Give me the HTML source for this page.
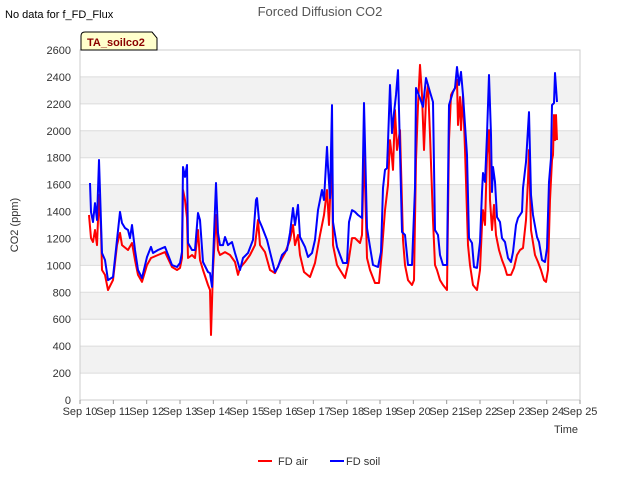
<!DOCTYPE html>
<html><head><meta charset="utf-8"><style>
body{margin:0;background:#fff;font-family:"Liberation Sans",sans-serif;}
</style></head><body>
<svg id="chart" width="640" height="480" xmlns="http://www.w3.org/2000/svg" font-family="Liberation Sans, sans-serif">
<text x="5" y="18" font-size="11" fill="#000">No data for f_FD_Flux</text>
<text x="320" y="16" font-size="13" fill="#555" text-anchor="middle">Forced Diffusion CO2</text>
<g id="bands"></g>
<g id="grid"></g>
<rect x="80" y="50" width="500" height="350" fill="none" stroke="#ccc"/>
<g id="yticks"></g>
<g id="xticks"></g>
<text x="18" y="225" font-size="11" fill="#333" text-anchor="middle" transform="rotate(-90 18 225)">CO2 (ppm)</text>
<text x="578" y="433" font-size="11" fill="#333" text-anchor="end">Time</text>
<g id="series"></g>
<g>
<path d="M81,50 L81,36 Q81,32 85,32 L152,32 L157,38 L157,50 Z" fill="#ffffcc" stroke="#000" stroke-width="1"/>
<text x="87" y="46" font-size="11" font-weight="bold" fill="#8b0000">TA_soilco2</text>
</g>
<g>
<g><line x1="258" y1="461" x2="272" y2="461" stroke="#ff0000" stroke-width="2"/><text x="278" y="465" font-size="11" fill="#333">FD air</text></g>
<g><line x1="330" y1="461" x2="344" y2="461" stroke="#0000ff" stroke-width="2"/><text x="346" y="465" font-size="11" fill="#333">FD soil</text></g>
</g>
</svg>
<script>
const xLabels=["Sep 10","Sep 11","Sep 12","Sep 13","Sep 14","Sep 15","Sep 16","Sep 17","Sep 18","Sep 19","Sep 20","Sep 21","Sep 22","Sep 23","Sep 24","Sep 25"];
const yTicks=[0,200,400,600,800,1000,1200,1400,1600,1800,2000,2200,2400,2600];
const soilDays=[0.30,0.33,0.39,0.45,0.51,0.57,0.66,0.75,0.84,0.99,1.11,1.20,1.26,1.35,1.44,1.50,1.56,1.65,1.74,1.86,2.01,2.13,2.19,2.34,2.55,2.76,2.91,3.00,3.06,3.09,3.15,3.21,3.24,3.36,3.45,3.54,3.60,3.69,3.84,3.90,3.96,4.08,4.14,4.20,4.29,4.35,4.44,4.56,4.65,4.74,4.80,4.89,5.04,5.19,5.28,5.31,5.37,5.46,5.61,5.76,5.85,5.94,6.06,6.21,6.30,6.39,6.45,6.54,6.60,6.75,6.84,6.96,7.05,7.14,7.26,7.32,7.41,7.44,7.50,7.56,7.59,7.71,7.80,7.89,8.01,8.07,8.16,8.25,8.34,8.46,8.52,8.61,8.70,8.79,8.94,9.03,9.09,9.15,9.21,9.24,9.30,9.36,9.39,9.48,9.54,9.66,9.75,9.84,9.96,10.05,10.08,10.20,10.29,10.38,10.50,10.59,10.65,10.74,10.80,10.89,11.01,11.07,11.19,11.25,11.31,11.37,11.43,11.49,11.61,11.67,11.76,11.82,11.91,12.00,12.06,12.09,12.15,12.21,12.27,12.33,12.36,12.39,12.45,12.51,12.60,12.66,12.75,12.84,12.93,12.99,13.08,13.14,13.26,13.29,13.38,13.47,13.53,13.59,13.71,13.77,13.86,13.95,14.01,14.07,14.13,14.16,14.22,14.25,14.31];
const soilValues=[1612,1397,1322,1463,1337,1783,1092,1040,891,914,1189,1397,1315,1278,1263,1203,1300,1114,966,906,1062,1137,1092,1114,1137,1003,988,1018,1100,1731,1657,1746,1166,1114,1114,1389,1337,1025,951,943,840,1612,1241,1151,1151,1211,1151,1174,1092,1018,966,1055,1092,1189,1486,1500,1337,1285,1189,1040,951,988,1077,1114,1241,1426,1300,1449,1211,1137,1062,1092,1189,1411,1560,1486,1880,1731,1500,2191,1322,1137,1077,1018,1018,1322,1411,1397,1374,1352,2206,1278,1137,1003,988,1099,1575,1709,1723,1916,2340,1983,2065,2266,2451,1248,1226,1003,1003,1575,2318,2243,2177,2392,2288,2214,1263,1226,1077,1003,1003,2191,2288,2318,2474,2340,2437,2266,1820,1203,1166,988,981,1174,1545,1686,1620,1969,2414,1969,1545,1731,1620,1359,1322,1203,1174,1055,1025,1099,1300,1352,1397,1575,1768,2139,1523,1374,1211,1174,1040,1025,1129,1620,1798,2191,2206,2429,2214];
const airDays=[0.27,0.33,0.39,0.45,0.51,0.57,0.63,0.66,0.75,0.84,0.99,1.11,1.20,1.26,1.44,1.56,1.65,1.74,1.86,2.01,2.13,2.34,2.55,2.76,2.91,3.00,3.06,3.09,3.15,3.21,3.24,3.36,3.45,3.54,3.60,3.69,3.84,3.90,3.93,3.99,4.08,4.14,4.20,4.35,4.50,4.65,4.74,4.80,4.95,5.10,5.25,5.34,5.40,5.55,5.70,5.85,6.00,6.15,6.30,6.39,6.45,6.54,6.60,6.72,6.90,7.05,7.20,7.32,7.41,7.47,7.50,7.56,7.59,7.71,7.80,7.95,8.04,8.16,8.25,8.40,8.46,8.52,8.61,8.70,8.85,8.97,9.06,9.15,9.24,9.30,9.36,9.39,9.45,9.51,9.60,9.69,9.75,9.84,9.96,10.02,10.08,10.14,10.20,10.26,10.32,10.38,10.44,10.50,10.59,10.65,10.71,10.80,10.89,11.01,11.07,11.13,11.16,11.25,11.31,11.34,11.40,11.43,11.49,11.55,11.64,11.70,11.79,11.91,12.00,12.06,12.09,12.15,12.21,12.27,12.30,12.36,12.42,12.48,12.57,12.66,12.75,12.81,12.93,13.02,13.11,13.20,13.29,13.38,13.44,13.47,13.53,13.65,13.74,13.83,13.92,13.98,14.04,14.10,14.16,14.19,14.22,14.25,14.28,14.31];
const airValues=[1374,1203,1174,1263,1151,1523,1263,966,929,817,891,1151,1241,1151,1114,1166,1040,929,877,1003,1055,1077,1099,988,966,981,1055,1560,1486,1352,1055,1077,1055,1263,1040,966,854,817,483,966,1374,1114,1077,1099,1077,1025,929,981,1025,1077,1151,1337,1151,1099,966,943,1025,1092,1189,1300,1151,1226,1077,951,914,1018,1226,1374,1560,1300,1486,1783,1151,1003,966,906,1003,1203,1203,1166,1226,1894,1055,966,869,869,1114,1411,1597,1931,1798,1709,2154,1857,2005,1189,1003,891,854,891,1783,2191,2489,2266,1857,2229,2340,1969,1337,1003,966,891,854,817,1931,2266,2281,2318,2377,2043,2251,2005,2266,1857,1151,1003,854,817,966,1300,1411,1300,1820,2005,1486,1263,1449,1226,1114,1040,981,929,929,981,1077,1114,1129,1337,1634,1857,1263,1077,1025,966,891,877,966,1486,1783,1820,2117,1931,2117,1931];

const NS="http://www.w3.org/2000/svg";
const X0=80,X1=580,Y0=400,Y1=50,YMAX=2600,DAYS=15;
function xs(d){return X0+(X1-X0)*d/DAYS;}
function ys(v){return Y0-(Y0-Y1)*v/YMAX;}
function mk(tag,attrs,parent){const e=document.createElementNS(NS,tag);for(const k in attrs)e.setAttribute(k,attrs[k]);parent.appendChild(e);return e;}
const bands=document.getElementById('bands'),grid=document.getElementById('grid'),yt=document.getElementById('yticks'),xt=document.getElementById('xticks'),ser=document.getElementById('series');
for(let i=0;i<yTicks.length-1;i++){
  if(i%2===1){
    const r=mk('rect',{x:X0,y:ys(yTicks[i+1]),width:X1-X0,height:ys(yTicks[i])-ys(yTicks[i+1]),fill:'#f2f2f2'},bands);
    
    
  }
}
yTicks.forEach(v=>{
  const l=mk('line',{x1:X0,x2:X1,y1:ys(v),y2:ys(v),stroke:'#dcdcdc','stroke-width':1},grid);
  
  
  const t=mk('text',{x:X0-9,y:ys(v)+4,'font-size':11,fill:'#333','text-anchor':'end'},yt);
  t.textContent=v;
  
  
});
xLabels.forEach((s,i)=>{
  const x=xs(i);
  const l=mk('line',{x1:x,x2:x,y1:Y0,y2:Y0+4,stroke:'#999'},xt);
  
  
  const t=mk('text',{x:x,y:Y0+15,'font-size':11,fill:'#333','text-anchor':'middle'},xt);
  t.textContent=s;
  
  
});
function line(days,vals,color,name){
  const d=days.map((t,i)=>(i?'L':'M')+xs(t).toFixed(1)+','+ys(vals[i]).toFixed(1)).join('');
  const p=mk('path',{d:d,fill:'none',stroke:color,'stroke-width':2,'stroke-linejoin':'round'},ser);
  
  
}
line(airDays,airValues,'#ff0000','fd-air-line');
line(soilDays,soilValues,'#0000ff','fd-soil-line');
</script>
</body></html>
